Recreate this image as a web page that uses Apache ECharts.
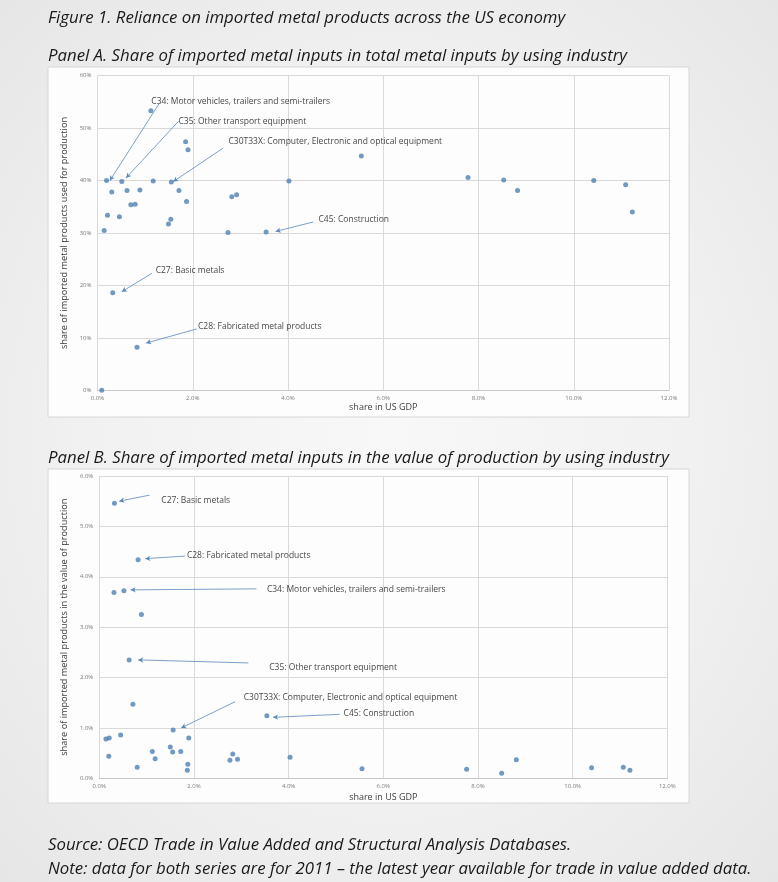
<!DOCTYPE html>
<html>
<head>
<meta charset="utf-8">
<script src="https://cdn.jsdelivr.net/npm/echarts@6/dist/echarts.min.js"></script>
<style>
html,body{margin:0;padding:0;width:778px;height:882px;overflow:hidden;}
body{background:radial-gradient(ellipse at 50% 50%, #f8f8f8 0%, #f1f1f1 55%, #e6e6e6 100%);}
#chart{width:778px;height:882px;}
</style>
</head>
<body>
<div id="chart"></div>
<script>
// ---------------- data ----------------
// Panel A: share in US GDP (%) vs share of imported metal inputs in total metal inputs (%)
var panelA_x = [1.12,0.19,0.51,0.30,0.62,0.89,1.17,0.70,0.79,0.21,0.46,0.14,1.55,1.71,1.85,1.90,1.87,1.49,1.54,2.82,2.92,2.74,3.54,4.02,5.54,7.78,8.53,8.82,10.42,11.09,11.23,0.32,0.83,0.09];
var panelA_y = [53.3,40.0,39.8,37.8,38.1,38.2,39.9,35.4,35.5,33.4,33.1,30.5,39.75,38.1,47.4,45.9,36.0,31.7,32.6,36.9,37.3,30.1,30.2,39.9,44.7,40.6,40.1,38.1,40.0,39.2,34.0,18.6,8.2,0];
// Panel B: share in US GDP (%) vs share of imported metal inputs in value of production (%)
var panelB_x = [0.32,0.82,0.31,0.52,0.89,0.63,0.71,3.54,1.56,0.14,0.21,0.45,0.20,0.80,1.12,1.18,1.50,1.55,1.72,1.89,1.87,1.86,2.76,2.82,2.92,4.03,5.55,7.76,8.50,8.81,10.40,11.07,11.21];
var panelB_y = [5.46,4.34,3.69,3.72,3.25,2.35,1.47,1.24,0.96,0.78,0.80,0.86,0.44,0.22,0.53,0.39,0.62,0.52,0.53,0.80,0.28,0.16,0.36,0.48,0.38,0.42,0.19,0.18,0.10,0.37,0.21,0.22,0.16];

var labelNames = [
  "C34: Motor vehicles, trailers and semi-trailers",
  "C35: Other transport equipment",
  "C30T33X: Computer, Electronic and optical equipment",
  "C45: Construction",
  "C27: Basic metals",
  "C28: Fabricated metal products"
];
var xTicksA = [0,2,4,6,8,10,12];
var yTicksA = [0,10,20,30,40,50,60];
var yTicksB = [0,1,2,3,4,5,6];

// annotation placement (data coordinates): label anchor, arrow start, arrow end
var annotA = [
  {label:[1.12,55.0], from:[1.31,54.9], to:[0.26,40.0]},
  {label:[1.69,51.2], from:[1.70,51.3], to:[0.60,40.5]},
  {label:[2.74,47.4], from:[2.64,46.2], to:[1.59,39.8]},
  {label:[4.63,32.5], from:[4.53,32.1], to:[3.74,30.3]},
  {label:[1.21,22.9], from:[1.14,22.3], to:[0.51,18.8]},
  {label:[2.10,12.1], from:[2.08,11.7], to:[1.02,9.0]}
];
var annotB = [
  {label:[3.53,3.74], from:[3.32,3.76], to:[0.66,3.74]},
  {label:[3.58,2.19], from:[3.15,2.29], to:[0.82,2.35]},
  {label:[3.04,1.61], from:[2.87,1.52], to:[1.73,1.00]},
  {label:[5.15,1.28], from:[5.08,1.27], to:[3.67,1.21]},
  {label:[1.30,5.52], from:[1.06,5.62], to:[0.42,5.50]},
  {label:[1.84,4.43], from:[1.81,4.41], to:[0.97,4.36]}
];

// ---------------- chart ----------------
var TXT = "'Open Sans', Lato, sans-serif";
var markerColor = '#4f7fb3';
var lineColor = '#5a88bd';

function zip(xs, ys){ return xs.map(function(x,i){return [x, ys[i]];}); }

function xAxisCfg(idx){
  return {
    gridIndex: idx, type:'value', min:0, max:12, interval:2,
    name:'share in US GDP', nameLocation:'middle', nameGap: idx===0?13:15,
    nameTextStyle:{fontFamily:TXT, fontSize:9, color:'#404040'},
    axisLine:{show:true, lineStyle:{color:'#c8c8c8', width:1}},
    axisTick:{show:false},
    axisLabel:{fontFamily:TXT, fontSize:6, color:'#7a7a7a', margin:5,
      formatter:function(v){return v.toFixed(1)+'%';}},
    splitLine:{show:true, lineStyle:{color:'#d9d9d9', width:1}}
  };
}
function yAxisCfg(idx, max, interval, name, fmt, gap){
  return {
    gridIndex: idx, type:'value', min:0, max:max, interval:interval,
    name:name, nameLocation:'middle', nameRotate:90, nameGap: gap,
    nameTextStyle:{fontFamily:TXT, fontSize:9.2, color:'#404040'},
    axisLine:{show:false}, axisTick:{show:false},
    axisLabel:{fontFamily:TXT, fontSize:6, color:'#7a7a7a', margin:6, formatter:fmt},
    splitLine:{show:true, lineStyle:{color:'#d9d9d9', width:1}}
  };
}
function scatterCfg(idx, data, annots){
  return {
    type:'scatter', xAxisIndex:idx, yAxisIndex:idx, data:data,
    symbolSize:5, itemStyle:{color:markerColor},
    silent:true, z:3,
    markLine:{
      silent:true, symbol:['none','arrow'], symbolSize:[4,5],
      lineStyle:{color:lineColor, width:0.8, type:'solid'},
      label:{show:false},
      data: annots.map(function(a){return [{coord:a.from},{coord:a.to}];})
    }
  };
}
function labelCfg(idx, annots){
  return {
    type:'scatter', xAxisIndex:idx, yAxisIndex:idx, silent:true, z:4,
    symbolSize:1, itemStyle:{color:'rgba(0,0,0,0)'},
    label:{show:true, position:'right', distance:0, fontFamily:TXT, fontSize:8.5, color:'#111111',
      formatter:function(p){return p.name;}},
    data: annots.map(function(a,i){return {name:labelNames[i], value:a.label};})
  };
}

var titleStyle = {fontFamily:TXT, fontStyle:'italic', fontWeight:'normal', fontSize:16.8, color:'#1a1a1a'};
var option = {
  animation:false,
  backgroundColor:'transparent',
  graphic:[
    {type:'rect', z:-10, shape:{x:48, y:67, width:641, height:350},
      style:{fill:'#fdfdfd', stroke:'#d6d6d6', lineWidth:1}},
    {type:'rect', z:-10, shape:{x:48, y:469, width:641, height:334},
      style:{fill:'#fdfdfd', stroke:'#d6d6d6', lineWidth:1}}
  ],
  title:[
    {text:'Figure 1. Reliance on imported metal products across the US economy', left:43, top:5, textStyle:titleStyle},
    {text:'Panel A. Share of imported metal inputs in total metal inputs by using industry', left:43, top:43, textStyle:titleStyle},
    {text:'Panel B. Share of imported metal inputs in the value of production by using industry', left:43, top:445, textStyle:titleStyle},
    {text:'Source: OECD Trade in Value Added and Structural Analysis Databases.', left:43, top:832, textStyle:titleStyle},
    {text:'Note: data for both series are for 2011 \u2013 the latest year available for trade in value added data.', left:43, top:856, textStyle:titleStyle}
  ],
  grid:[
    {left:97.5, right:109, top:75.7, bottom:491.7},
    {left:99.3, right:110.7, top:476, bottom:103.7}
  ],
  xAxis:[xAxisCfg(0), xAxisCfg(1)],
  yAxis:[
    yAxisCfg(0, 60, 10, 'share of imported metal products used for production', function(v){return v+'%';}, 26),
    yAxisCfg(1, 6, 1, 'share of imported metal products in the value of production', function(v){return v.toFixed(1)+'%';}, 28)
  ],
  series:[
    scatterCfg(0, zip(panelA_x, panelA_y), annotA),
    labelCfg(0, annotA),
    scatterCfg(1, zip(panelB_x, panelB_y), annotB),
    labelCfg(1, annotB)
  ]
};
var chart = echarts.init(document.getElementById('chart'), null, {renderer:'canvas'});
chart.setOption(option);
</script>
</body>
</html>
